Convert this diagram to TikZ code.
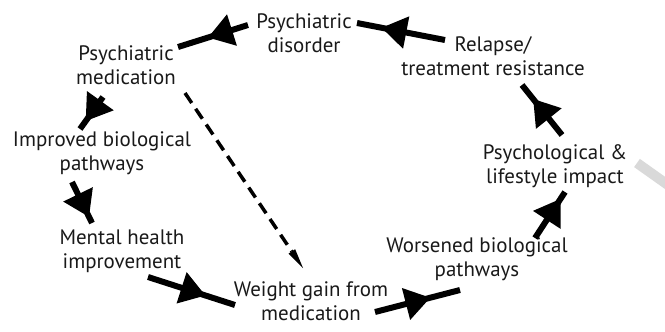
\documentclass[tikz,border=0pt]{standalone}
\usepackage{fontspec}
\setmainfont{PT Sans}
\usetikzlibrary{arrows.meta,decorations.markings}
\begin{document}
\begin{tikzpicture}[x=1bp,y=-1bp,
  lbl/.style={align=center,font=\fontsize{21}{24.5}\selectfont,inner sep=0pt,text=black!90},
  flow/.style={line width=6bp,postaction={decorate},
    decoration={markings,mark=at position #1 with {\arrow{Triangle[length=25bp,width=33bp,line width=0pt]}}}},
  dashflow/.style={line width=3.5bp,dash pattern=on 12bp off 7bp,-{Triangle[length=20bp,width=8bp,line width=0pt]}}
  ]
\useasboundingbox (0,0) rectangle (665,331);
\fill[white] (0,0) rectangle (665,331);
\node[lbl] (dis) at (304,33) {Psychiatric\\disorder};
\node[lbl] (med) at (126,65) {Psychiatric\\medication};
\node[lbl] (imp) at (102,153) {Improved biological\\pathways};
\node[lbl] (men) at (122,251) {Mental health\\improvement};
\node[lbl] (wgt) at (311,301) {Weight gain from\\medication};
\node[lbl] (wor) at (477,259) {Worsened biological\\pathways};
\node[lbl] (psy) at (555,166) {Psychological \&\\lifestyle impact};
\node[lbl] (rel) at (493,56) {Relapse/\\treatment resistance};
\coordinate (gs) at (637,163);
\coordinate (ge) at (668,185);
\draw[line width=10bp,black!15] (gs) -- (ge);
\draw[flow=0.57] ([shift={(-56,-8)}]dis.center) -- ([shift={(52,-18)}]med.center);
\draw[flow=0.75] ([shift={(-23,32)}]med.center) -- ([shift={(-22,-24)}]imp.center);
\draw[flow=0.85] ([shift={(-30,29)}]imp.center) -- ([shift={(-30,-28)}]men.center);
\draw[flow=0.66] ([shift={(26,26)}]men.center) -- ([shift={(-76,4)}]wgt.center);
\draw[flow=0.65] ([shift={(64,11)}]wgt.center) -- ([shift={(-17,31)}]wor.center);
\draw[flow=0.85] ([shift={(58,-21)}]wor.center) -- ([shift={(10,26)}]psy.center);
\draw[flow=0.72] ([shift={(7,-31)}]psy.center) -- ([shift={(29,29)}]rel.center);
\draw[flow=0.72] ([shift={(-48,-16)}]rel.center) -- ([shift={(53,-10)}]dis.center);
\draw[dashflow] ([shift={(59,28)}]med.center) -- ([shift={(-8,-33)}]wgt.center);
\end{tikzpicture}
\end{document}
